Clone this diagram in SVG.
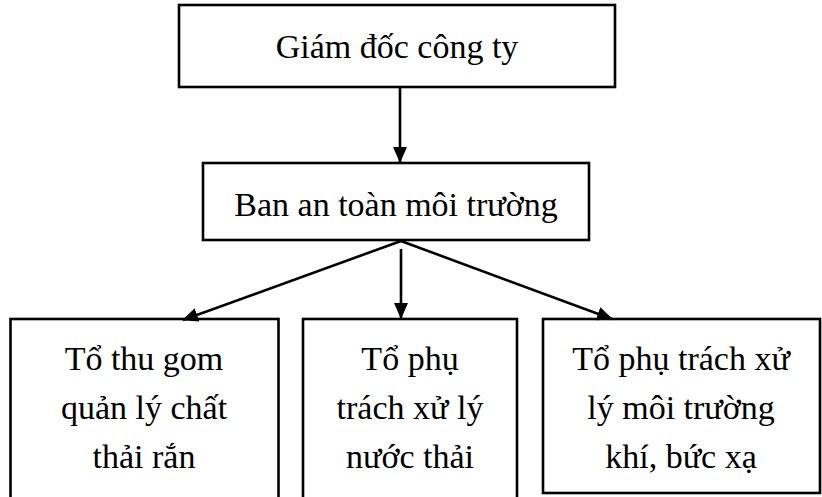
<svg xmlns="http://www.w3.org/2000/svg" width="822" height="497" viewBox="0 0 822 497">
<style>
.box{fill:#fff;stroke:#000;stroke-width:2.6}
.t{font-family:"Liberation Serif","Times New Roman",serif;font-size:34px;fill:#000;text-anchor:middle}
.c{stroke:#000;stroke-width:2.6;fill:none}
</style>
<defs>
<marker id="ah" markerUnits="userSpaceOnUse" markerWidth="16" markerHeight="14" refX="15" refY="7" orient="auto">
<path d="M0,0 L16,7 L0,14 Z" fill="#000"/>
</marker>
</defs>
<rect width="822" height="497" fill="#fff"/>
<g id="n-giamdoc">
<rect class="box" x="179" y="5" width="436" height="82"/>
<text class="t" x="397" y="58">Giám đốc công ty</text>
</g>
<g id="n-ban">
<rect class="box" x="203" y="163" width="386" height="77"/>
<text class="t" x="396" y="216">Ban an toàn môi trường</text>
</g>
<g id="n-to1">
<rect class="box" x="10.5" y="319" width="268" height="190"/>
<text class="t" x="144" y="370">Tổ thu gom</text>
<text class="t" x="144" y="419">quản lý chất</text>
<text class="t" x="144" y="468">thải rắn</text>
</g>
<g id="n-to2">
<rect class="box" x="303" y="319" width="214" height="190"/>
<text class="t" x="410" y="370">Tổ phụ</text>
<text class="t" x="410" y="419">trách xử lý</text>
<text class="t" x="410" y="468">nước thải</text>
</g>
<g id="n-to3">
<rect class="box" x="543" y="319" width="277" height="174"/>
<text class="t" x="681" y="370">Tổ phụ trách xử</text>
<text class="t" x="681" y="419">lý môi trường</text>
<text class="t" x="681" y="468">khí, bức xạ</text>
</g>
<g id="connectors">
<line class="c" x1="400" y1="87" x2="400" y2="162" marker-end="url(#ah)"/>
<line class="c" x1="401" y1="241" x2="183" y2="320" marker-end="url(#ah)"/>
<line class="c" x1="401" y1="249" x2="401" y2="318" marker-end="url(#ah)"/>
<line class="c" x1="401" y1="241" x2="612" y2="319" marker-end="url(#ah)"/>
</g>
</svg>
